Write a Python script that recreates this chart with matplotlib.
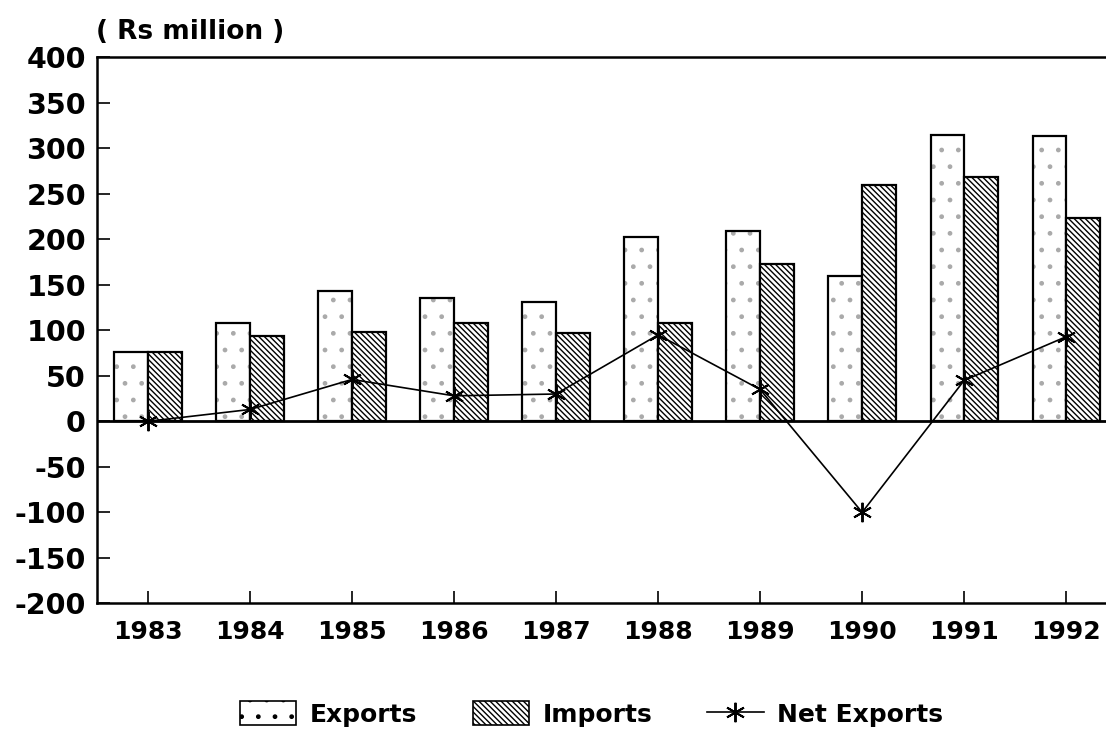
import numpy as np
import matplotlib
matplotlib.use("Agg")
import matplotlib.pyplot as plt
from matplotlib.patches import Patch
from matplotlib.lines import Line2D

plt.rcParams['font.family'] = ['DejaVu Sans']
plt.rcParams['font.weight'] = 'bold'

years = ['1983', '1984', '1985', '1986', '1987', '1988', '1989', '1990', '1991', '1992']
exports = [76, 108, 143, 136, 131, 202, 209, 160, 315, 314]
imports = [76, 94, 98, 108, 97, 108, 173, 260, 268, 223]
net_exports = [0, 13, 46, 28, 30, 95, 35, -100, 45, 93]
yticks = [-200, -150, -100, -50, 0, 50, 100, 150, 200, 250, 300, 350, 400]

x = np.arange(len(years))
w = 0.33

fig = plt.figure(figsize=(11.06, 7.34), dpi=100)
ax = fig.add_axes([0.0877, 0.178, 0.9123, 0.744])

# exports: light dots, then outline
ax.bar(x - w / 2, exports, w, color='white', edgecolor='#aaaaaa', hatch='.', linewidth=0, zorder=2)
ax.bar(x - w / 2, exports, w, fill=False, edgecolor='black', linewidth=1.6, zorder=3)
# imports: dense diagonal hatch
ax.bar(x + w / 2, imports, w, color='white', edgecolor='black', hatch='\\\\\\\\\\\\', linewidth=1.6, zorder=3)

ax.plot(x, net_exports, color='black', linewidth=1.2, marker=(6, 2, 0), markersize=14,
        markeredgewidth=1.4, zorder=4)

ax.axhline(0, color='black', linewidth=2, zorder=3)

ax.set_xlim(-0.5, 9.39)
ax.set_ylim(-200, 400)
ax.set_yticks(yticks)
ax.set_yticklabels([str(v) for v in yticks])
ax.set_xticks(x)
ax.set_xticklabels(years)
ax.tick_params(axis='both', direction='in', length=9, width=1.2, pad=8)
ax.tick_params(axis='y', labelsize=20.5)
ax.tick_params(axis='x', labelsize=18, pad=12)
for lab in ax.get_xticklabels() + ax.get_yticklabels():
    lab.set_fontweight('bold')

for s in ['left', 'top', 'bottom']:
    ax.spines[s].set_linewidth(1.8)
ax.spines['right'].set_visible(False)

fig.text(0.087, 0.956, '( Rs million )', fontsize=19, fontweight='bold', ha='left', va='center')

handles = [
    Patch(facecolor='white', edgecolor='black', hatch='.', linewidth=1.2),
    Patch(facecolor='white', edgecolor='black', hatch='\\\\\\\\\\\\', linewidth=1.2),
    Line2D([0], [0], color='black', linewidth=1.2, marker=(6, 2, 0), markersize=14, markeredgewidth=1.4),
]
fig.legend(handles, ['Exports', 'Imports', 'Net Exports'], loc='center', bbox_to_anchor=(0.535, 0.027),
           ncol=3, frameon=False, prop={'size': 18, 'weight': 'bold'}, handlelength=2.25,
           handleheight=1.1, columnspacing=2.2, handletextpad=0.55)

fig.savefig('out.png', dpi=100)
